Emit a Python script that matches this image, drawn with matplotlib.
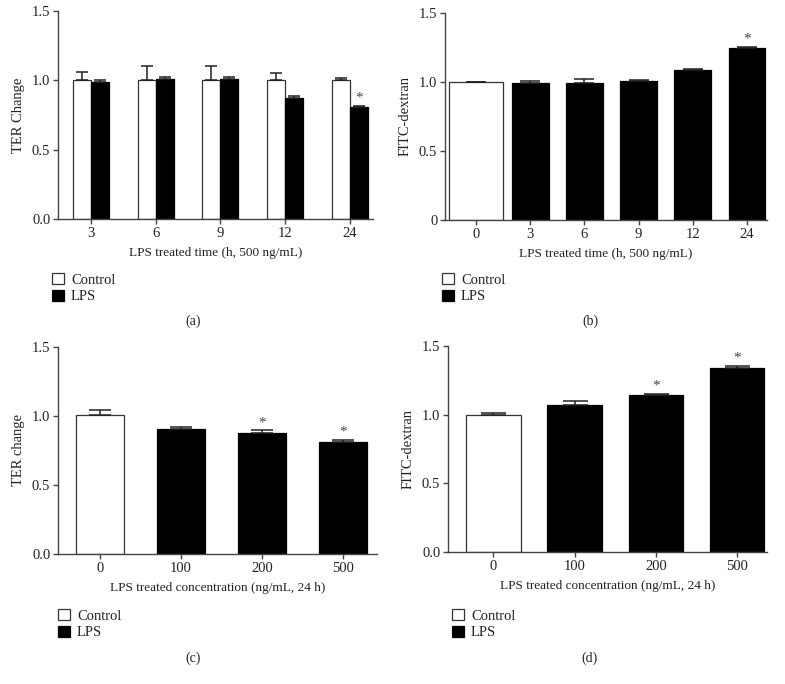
import matplotlib
matplotlib.use("Agg")
import matplotlib.pyplot as plt
from matplotlib.patches import Patch
import numpy as np

plt.rcParams['font.family'] = ['Liberation Serif', 'DejaVu Serif']
plt.rcParams['font.size'] = 9
plt.rcParams['text.color'] = '#222222'
plt.rcParams['axes.labelcolor'] = '#222222'
plt.rcParams['xtick.color'] = '#444444'
plt.rcParams['ytick.color'] = '#444444'
plt.rcParams['xtick.labelcolor'] = '#222222'
plt.rcParams['ytick.labelcolor'] = '#222222'

W, H = 785, 684

# (a) TER change over time, control vs LPS
a_times = ['3', '6', '9', '12', '24']
a_ctrl = [1.0, 1.0, 1.0, 1.0, 1.0]
a_ctrl_err = [0.058, 0.10, 0.10, 0.055, 0.02]
a_lps = [0.99, 1.01, 1.01, 0.875, 0.805]
a_lps_err = [0.01, 0.012, 0.012, 0.015, 0.012]
a_star = [False, False, False, False, True]

# (b) FITC-dextran over time
b_times = ['0', '3', '6', '9', '12', '24']
b_vals = [1.0, 0.995, 0.99, 1.007, 1.087, 1.246]
b_err = [0.002, 0.01, 0.035, 0.01, 0.01, 0.01]
b_star = [False, False, False, False, False, True]

# (c) TER change by concentration
c_conc = ['0', '100', '200', '500']
c_vals = [1.01, 0.907, 0.875, 0.81]
c_err = [0.03, 0.01, 0.02, 0.013]
c_star = [False, False, True, True]

# (d) FITC-dextran by concentration
d_conc = ['0', '100', '200', '500']
d_vals = [1.0, 1.068, 1.144, 1.343]
d_err = [0.015, 0.03, 0.005, 0.012]
d_star = [False, False, True, True]

EDGE = '#333333'


def px_axes(fig, left, right, top, bottom):
    return fig.add_axes([left / W, 1 - bottom / H, (right - left) / W, (bottom - top) / H])


def style_axes(ax, ylabel, yticklabels):
    ax.set_ylim(0, 1.5)
    ax.set_yticks([0, 0.5, 1.0, 1.5])
    ax.set_yticklabels(yticklabels)
    ax.spines['top'].set_visible(False)
    ax.spines['right'].set_visible(False)
    for s in ['left', 'bottom']:
        ax.spines[s].set_color('#444444')
        ax.spines[s].set_linewidth(1.0)
    ax.tick_params(direction='out', length=3.5, width=1.0, labelsize=10.5, pad=2)
    ax.set_ylabel(ylabel, fontsize=10.5, labelpad=5)


def add_errs(ax, x, vals, errs, capsize):
    ax.errorbar(x, vals, yerr=[np.zeros(len(vals)), errs], fmt='none',
                ecolor='#222222', elinewidth=1.1, capsize=capsize, capthick=1.1, zorder=3)


def add_stars(ax, x, vals, errs, stars):
    for xi, v, e, s in zip(x, vals, errs, stars):
        if s:
            ax.annotate('*', xy=(xi, v + e), xytext=(0, 1), textcoords='offset points',
                        ha='center', va='bottom', fontsize=11, color='#444444')


def add_legend(fig, x, y):
    handles = [Patch(facecolor='white', edgecolor=EDGE, linewidth=0.9),
               Patch(facecolor='black', edgecolor='black', linewidth=0.9)]
    fig.legend(handles, ['Control', 'LPS'], loc='upper left',
               bbox_to_anchor=(x / W, 1 - y / H), frameon=False,
               handlelength=0.8, handleheight=0.8, handletextpad=0.5,
               labelspacing=0.2, borderaxespad=0, borderpad=0, fontsize=10.5)


fig = plt.figure(figsize=(W / 100, H / 100), dpi=100)

# ---- (a)
ax = px_axes(fig, 58, 373, 11, 219)
xa = np.arange(len(a_times))
wa = 0.28
ax.bar(xa - wa / 2, a_ctrl, wa, color='white', edgecolor=EDGE, linewidth=0.9)
ax.bar(xa + wa / 2, a_lps, wa, color='black', edgecolor='black', linewidth=0.9)
add_errs(ax, xa - wa / 2, a_ctrl, a_ctrl_err, 4)
add_errs(ax, xa + wa / 2, a_lps, a_lps_err, 4)
add_stars(ax, xa + wa / 2, a_lps, a_lps_err, a_star)
ax.set_xlim(-0.51, 4.36)
ax.set_xticks(xa)
ax.set_xticklabels(a_times)
style_axes(ax, 'TER Change', ['0.0', '0.5', '1.0', '1.5'])
ax.set_xlabel('LPS treated time (h, 500 ng/mL)', fontsize=9.5, labelpad=5)
add_legend(fig, 52, 273)
fig.text(193 / W, 1 - 321 / H, '(a)', ha='center', va='center', fontsize=10)

# ---- (b)
ax = px_axes(fig, 445, 767, 13, 220)
xb = np.arange(len(b_times))
wb = [1.0] + [0.68] * (len(b_times) - 1)
colors = ['white'] + ['black'] * (len(b_times) - 1)
edges = [EDGE] + ['black'] * (len(b_times) - 1)
ax.bar(xb, b_vals, wb, color=colors, edgecolor=edges, linewidth=0.9)
add_errs(ax, xb, b_vals, b_err, 7)
add_stars(ax, xb, b_vals, b_err, b_star)
ax.set_xlim(-0.57, 5.37)
ax.set_xticks(xb)
ax.set_xticklabels(b_times)
style_axes(ax, 'FITC-dextran', ['0', '0.5', '1.0', '1.5'])
ax.set_xlabel('LPS treated time (h, 500 ng/mL)', fontsize=9.5, labelpad=5)
add_legend(fig, 442, 273)
fig.text(590 / W, 1 - 321 / H, '(b)', ha='center', va='center', fontsize=10)

# ---- (c)
ax = px_axes(fig, 58, 377, 347, 554)
xc = np.arange(len(c_conc))
colors = ['white'] + ['black'] * (len(c_conc) - 1)
edges = [EDGE] + ['black'] * (len(c_conc) - 1)
ax.bar(xc, c_vals, 0.6, color=colors, edgecolor=edges, linewidth=0.9)
add_errs(ax, xc, c_vals, c_err, 8)
add_stars(ax, xc, c_vals, c_err, c_star)
ax.set_xlim(-0.52, 3.42)
ax.set_xticks(xc)
ax.set_xticklabels(c_conc)
style_axes(ax, 'TER change', ['0.0', '0.5', '1.0', '1.5'])
ax.set_xlabel('LPS treated concentration (ng/mL, 24 h)', fontsize=9.5, labelpad=5)
add_legend(fig, 58, 609)
fig.text(193 / W, 1 - 658 / H, '(c)', ha='center', va='center', fontsize=10)

# ---- (d)
ax = px_axes(fig, 448, 767, 346, 552)
xd = np.arange(len(d_conc))
colors = ['white'] + ['black'] * (len(d_conc) - 1)
edges = [EDGE] + ['black'] * (len(d_conc) - 1)
ax.bar(xd, d_vals, 0.67, color=colors, edgecolor=edges, linewidth=0.9)
add_errs(ax, xd, d_vals, d_err, 9)
add_stars(ax, xd, d_vals, d_err, d_star)
ax.set_xlim(-0.56, 3.37)
ax.set_xticks(xd)
ax.set_xticklabels(d_conc)
style_axes(ax, 'FITC-dextran', ['0.0', '0.5', '1.0', '1.5'])
ax.set_xlabel('LPS treated concentration (ng/mL, 24 h)', fontsize=9.5, labelpad=5)
add_legend(fig, 452, 609)
fig.text(590 / W, 1 - 658 / H, '(d)', ha='center', va='center', fontsize=10)

fig.savefig('out.png', dpi=100)
